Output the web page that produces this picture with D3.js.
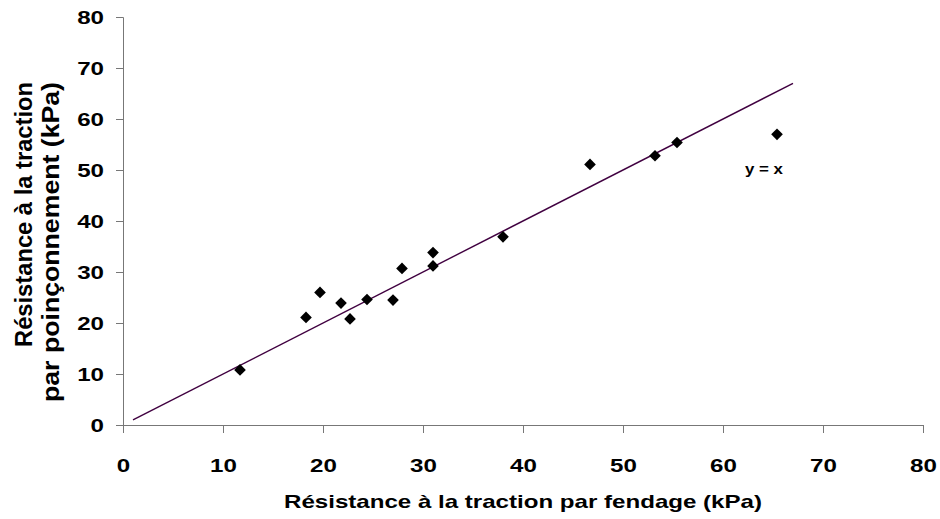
<!DOCTYPE html>
<html><head><meta charset="utf-8">
<script src="https://cdn.jsdelivr.net/npm/d3@7"></script>
<style>
html,body{margin:0;padding:0;background:#fff;}
svg text{font-family:"Liberation Sans",Arial,sans-serif;font-weight:bold;fill:#000;}
</style></head>
<body>
<svg id="chart" width="940" height="519"></svg>
<script>
// Data
const fendage = [11.7, 18.3, 19.7, 21.8, 22.7, 24.4, 27.0, 27.9, 31.0, 31.0, 38.0, 46.7, 53.2, 55.4, 65.4];
const poinconnement = [10.8, 21.1, 26.0, 23.9, 20.8, 24.6, 24.5, 30.7, 31.2, 33.8, 36.9, 51.1, 52.8, 55.4, 57.0];
const lineX = [1, 67];          // y = x reference line
const xTicks = [0, 10, 20, 30, 40, 50, 60, 70, 80];
const yTicks = [0, 10, 20, 30, 40, 50, 60, 70, 80];
const xTitle = "Résistance à la traction par fendage (kPa)";
const yTitleLines = ["Résistance à la traction", "par poinçonnement (kPa)"];
const lineLabel = "y = x";

const svg = d3.select("#chart");
const x = d3.scaleLinear().domain([0, 80]).range([123, 923]);
const y = d3.scaleLinear().domain([0, 80]).range([425, 17]);
const sx = 1.27;

// axes
const gx = svg.append("g").attr("transform", `translate(0,${y(0)})`)
  .call(d3.axisBottom(x).tickValues(xTicks).tickSizeOuter(0).tickSize(8).tickFormat(d3.format("d")));
gx.select(".domain").attr("stroke", "#777");
gx.selectAll(".tick line").attr("stroke", "#777");
gx.selectAll(".tick text").attr("y", 47).attr("dy", 0).attr("font-size", 19)
  .attr("transform", `scale(${sx},1)`);

const gy = svg.append("g").attr("transform", `translate(${x(0)},0)`)
  .call(d3.axisLeft(y).tickValues(yTicks).tickSizeOuter(0).tickSize(7).tickFormat(d3.format("d")));
gy.select(".domain").attr("stroke", "#777");
gy.selectAll(".tick line").attr("stroke", "#777");
gy.selectAll(".tick text").attr("x", -19 / sx).attr("dy", "0.36em").attr("font-size", 19)
  .attr("transform", `scale(${sx},1)`);
svg.selectAll(".tick text").style("font-family", "Liberation Sans, Arial, sans-serif").style("font-weight", "bold");

// y = x line
svg.append("line")
  .attr("x1", x(lineX[0])).attr("y1", y(lineX[0]))
  .attr("x2", x(lineX[1])).attr("y2", y(lineX[1]))
  .attr("stroke", "#400040").attr("stroke-width", 1.4);

// points
const sym = d3.symbol().type(d3.symbolSquare).size(68);
svg.append("g").selectAll("path").data(fendage).join("path")
  .attr("d", sym)
  .attr("transform", (d, i) => `translate(${x(d)},${y(poinconnement[i])}) rotate(45)`)
  .attr("fill", "#000");

// label y = x
svg.append("text").attr("x", 764).attr("y", 174).attr("text-anchor", "middle")
  .attr("font-size", 15).attr("textLength", 38).attr("lengthAdjust", "spacingAndGlyphs")
  .text(lineLabel);

// x title
svg.append("text").attr("x", 523).attr("y", 508).attr("text-anchor", "middle")
  .attr("font-size", 18.5).attr("textLength", 478).attr("lengthAdjust", "spacingAndGlyphs")
  .text(xTitle);

// y title
const yLens = [265, 320];
const yBase = [32, 59];
yTitleLines.forEach((t, i) => {
  svg.append("text")
    .attr("transform", `translate(${yBase[i]},82) rotate(-90)`)
    .attr("text-anchor", "end")
    .attr("font-size", 24).attr("textLength", yLens[i]).attr("lengthAdjust", "spacingAndGlyphs")
    .text(t);
});
</script>
</body></html>
